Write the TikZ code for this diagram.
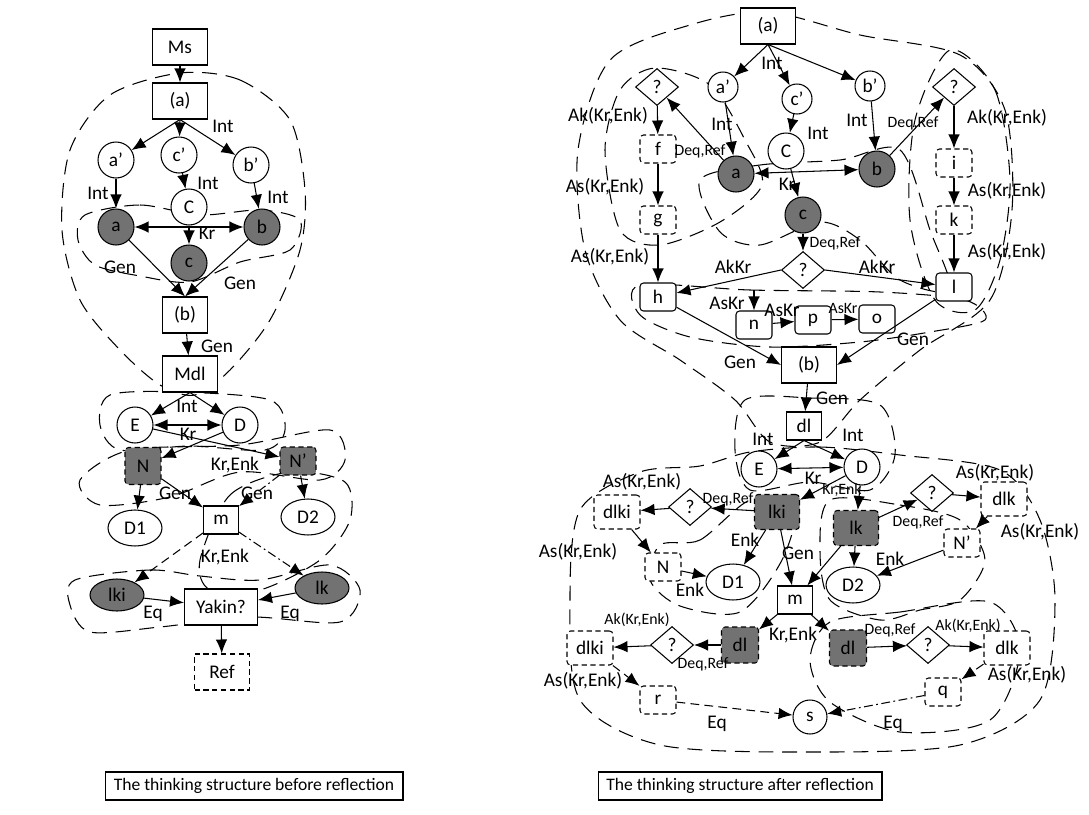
\documentclass[tikz,border=0pt]{standalone}
\usepackage{fontspec}
\setmainfont{Carlito}
\usetikzlibrary{arrows.meta,shapes.geometric}

\definecolor{markgray}{HTML}{727272}

\tikzset{
    every node/.style = {font=\fontsize{11}{12}\selectfont, inner sep=1pt},
    box/.style = {draw, fill=white, rectangle, minimum width=1.1cm, minimum height=0.72cm},
    sbox/.style = {box, minimum width=0.7cm, minimum height=0.56cm},
    rbox/.style = {draw, fill=white, rounded corners=2pt, minimum width=0.72cm, minimum height=0.56cm},
    dbox/.style = {rbox, densely dashed},
    wbox/.style = {dbox, minimum width=0.92cm, minimum height=0.68cm},
    gbox/.style = {dbox, fill=markgray, minimum width=0.9cm, minimum height=0.7cm},
    circ/.style = {draw, fill=white, circle, minimum size=0.72cm},
    scirc/.style = {circ, minimum size=0.6cm},
    gcirc/.style = {circ, fill=markgray},
    oval/.style = {draw, fill=white, ellipse, minimum width=1.08cm, minimum height=0.72cm},
    goval/.style = {oval, fill=markgray, minimum height=0.64cm},
    ask/.style = {draw, fill=white, diamond, minimum width=0.86cm, minimum height=0.74cm, inner sep=0pt},
    lbl/.style = {inner sep=0pt},
    slbl/.style = {inner sep=0pt, font=\fontsize{9}{10}\selectfont},
    caption/.style = {draw, font=\fontsize{10}{12}\selectfont, minimum height=0.56cm},
    zone/.style = {dash pattern=on 8.5pt off 5pt},
    dashline/.style = {dash pattern=on 5pt off 3pt},
    dotline/.style = {dash pattern=on 5pt off 2pt on 1pt off 2pt},
}

\begin{document}
\begin{tikzpicture}[> = {Latex[length=2.8mm, width=2.3mm]}, x=0.02cm, y=-0.02cm, line width=0.6pt]

        \useasboundingbox (0,0) rectangle (1089,815);

        % Dashed zones of the structure before reflection.
        \draw[zone] plot[smooth cycle] coordinates {(180,73) (240,80) (290,120) (305,190) (300,250)
            (270,320) (230,370) (195,395) (160,385) (120,350) (80,300) (62,230) (70,150) (110,95)};
        \draw[zone] plot[smooth cycle] coordinates {(85,215) (140,205) (200,215) (260,210) (300,220)
            (290,250) (240,262) (190,282) (140,276) (95,265) (78,240)};
        \draw[zone] plot[smooth cycle] coordinates {(110,395) (180,392) (270,400) (285,430) (265,450)
            (190,446) (120,450) (100,425)};
        \draw[zone] plot[smooth cycle] coordinates {(80,480) (130,450) (240,445) (330,430) (345,460)
            (320,480) (240,472) (170,497) (100,505)};
        \draw[zone] plot[smooth cycle] coordinates {(200,560) (230,495) (290,472) (345,482) (350,520)
            (320,560) (260,590) (210,590)};
        \draw[zone] plot[smooth cycle] coordinates {(75,580) (150,570) (200,576) (260,580) (330,565)
            (360,590) (340,622) (250,617) (160,627) (90,632) (70,605)};

        % Dashed zones of the structure after reflection.
        \draw[zone] plot[smooth cycle] coordinates {(768,12) (860,35) (960,55) (1005,110) (1012,210)
            (990,300) (920,350) (860,400) (820,442) (770,442) (735,400) (680,360) (620,320)
            (585,250) (578,150) (610,60) (690,25)};
        \draw[zone] plot[smooth cycle] coordinates {(655,68) (710,85) (745,140) (762,185) (720,222)
            (660,245) (620,230) (605,150) (620,90)};
        \draw[zone] plot[smooth cycle] coordinates {(950,50) (995,90) (1010,180) (1000,260) (975,310)
            (935,300) (910,220) (915,120)};
        \draw[zone] plot[smooth cycle] coordinates {(700,180) (760,165) (840,160) (900,150) (930,230)
            (950,290) (900,280) (860,240) (820,222) (760,245) (720,232)};
        \draw[zone] plot[smooth cycle] coordinates {(640,285) (750,290) (880,292) (965,300) (985,320)
            (930,332) (860,342) (770,347) (690,337) (640,315)};
        \draw[zone] plot[smooth cycle] coordinates {(750,452) (820,447) (900,455) (1000,470) (1040,520)
            (1055,600) (1040,700) (960,745) (810,752) (660,745) (580,700) (570,600) (580,510)
            (640,472) (700,466)};
        \draw[zone] plot[smooth cycle] coordinates {(745,400) (810,398) (880,405) (895,455) (870,490)
            (810,482) (750,490) (735,450)};
        \draw[zone] plot[smooth cycle] coordinates {(660,545) (700,540) (750,500) (795,505) (782,560)
            (740,612) (680,606) (650,580)};
        \draw[zone] plot[smooth cycle] coordinates {(830,500) (900,505) (960,520) (985,560) (960,600)
            (920,610) (880,620) (830,600) (820,550)};
        \draw[zone] plot[smooth cycle] coordinates {(830,622) (900,612) (990,602) (1020,650) (990,720)
            (900,732) (830,702) (810,660)};

        % Nodes before reflection.
        \node[box] (Ms) at (180,47) {Ms};
        \node[box] (La) at (180,101) {(a)};
        \node[circ] (Lap) at (116,160) {a’};
        \node[circ] (Lcp) at (179,155) {c’};
        \node[circ] (Lbp) at (251,165) {b’};
        \node[circ] (LC) at (189,207) {C};
        \node[gcirc] (La2) at (116,227) {a};
        \node[gcirc] (Lb2) at (262,227) {b};
        \node[gcirc] (Lc2) at (189,263) {c};
        \node[box, minimum width=0.9cm] (Lb) at (185,315) {(b)};
        \node[box] (Mdl) at (190,374) {Mdl};
        \node[circ] (LE) at (135,425) {E};
        \node[circ] (LD) at (240,425) {D};
        \node[gbox, minimum width=0.72cm, minimum height=0.74cm] (LN) at (143,466) {N};
        \node[gbox, minimum width=0.72cm, minimum height=0.56cm] (LNp) at (298,461) {N’};
        \node[oval] (LD1) at (135,528) {D1};
        \node[oval] (LD2) at (308,517) {D2};
        \node[sbox] (Lm) at (221,520) {m};
        \node[goval] (Llki) at (117,595) {lki};
        \node[goval] (Llk) at (322,588) {lk};
        \node[box, minimum width=1.46cm] (Yakin) at (221,607) {Yakin?};
        \node[box, densely dashed] (Ref) at (222,672) {Ref};

        % Connectors before reflection.
        \foreach \src/\dst in {Ms/La, Lap/La2, Lcp/LC, Lbp/Lb2, LC/Lc2, Lb/Mdl, LE/LNp, LD/LN,
            LN/LD1, LNp/LD2, LN/Lm, Llki/Yakin, Llk/Yakin, Yakin/Ref}
            \draw[->] (\src) -- (\dst);
        \foreach \dst in {Lap, Lcp, Lbp}
            \draw[->] (La.south) -- (\dst);
        \foreach \dst in {LE, LD}
            \draw[->] (Mdl.south) -- (\dst);
        \draw[<->] (La2) -- (Lb2);
        \draw[<->] (LE) -- (LD);
        \draw[->] (La2) -- (Lb.north);
        \draw[->] (Lb2) -- (Lb.north);
        \draw[->, dotline] (LNp) -- (Lm);
        \draw[->, dashline] (Lm) -- (Llki);
        \draw[->, dotline] (Lm) -- (Llk);

        % Labels before reflection.
        \foreach \name/\x/\y/\txt in {lA/223/126/Int, lB/98/193/Int, lC/208/183/Int, lD/278/197/Int,
            lE/207/233/Kr, lF/120/267/Gen, lG/240/283/Gen, lH/217/346/Gen, lI/187/406/Int,
            lJ/188/434/Kr, lK/235/465/{Kr,Enk}, lL/175/493/Gen, lM/257/493/Gen,
            lN/225/557/{Kr,Enk}, lO/153/614/Eq, lP/290/614/Eq}
            \node[lbl] (\name) at (\x,\y) {\txt};

        % Nodes after reflection.
        \node[box] (Ra) at (768,26) {(a)};
        \node[scirc] (Rap) at (723,87) {a’};
        \node[scirc] (Rcp) at (797,99) {c’};
        \node[scirc] (Rbp) at (870,86) {b’};
        \node[circ] (RC) at (786,151) {C};
        \node[gcirc] (Ra2) at (736,174) {a};
        \node[gcirc] (Rb2) at (877,169) {b};
        \node[gcirc] (Rc2) at (803,215) {c};
        \node[ask] (Rql) at (657,87) {?};
        \node[ask] (Rqr) at (954,87) {?};
        \node[dbox] (Rf) at (658,149) {f};
        \node[dbox] (Rg) at (658,220) {g};
        \node[rbox] (Rh) at (658,297) {h};
        \node[dbox] (Ri) at (954,163) {i};
        \node[dbox] (Rk) at (954,220) {k};
        \node[rbox] (Rl) at (954,287) {l};
        \node[ask] (Rqc) at (803,270) {?};
        \node[rbox] (Rn) at (754,325) {n};
        \node[rbox] (Rp) at (813,320) {p};
        \node[rbox] (Ro) at (877,319) {o};
        \node[box] (Rb) at (809,365) {(b)};
        \node[sbox] (Rdl) at (804,426) {dl};
        \node[circ] (RE) at (759,469) {E};
        \node[circ] (RD) at (862,467) {D};
        \node[gbox] (Rlki) at (777,512) {lki};
        \node[gbox] (Rlk) at (856,528) {lk};
        \node[ask] (Rqml) at (690,507) {?};
        \node[wbox] (Rdlki) at (617,512) {dlki};
        \node[ask] (Rqmr) at (932,493) {?};
        \node[wbox] (Rdlk) at (1004,499) {dlk};
        \node[dbox] (RNp) at (962,543) {N’};
        \node[dbox] (RN) at (663,567) {N};
        \node[oval] (RD1) at (733,582) {D1};
        \node[sbox] (Rm) at (795,600) {m};
        \node[oval] (RD2) at (853,585) {D2};
        \node[gbox, minimum width=0.74cm, minimum height=0.72cm] (Rdll) at (740,645) {dl};
        \node[ask] (Rqbl) at (672,645) {?};
        \node[wbox] (Rdlki2) at (590,648) {dlki};
        \node[dbox] (Rr) at (658,700) {r};
        \node[circ, minimum size=0.68cm] (Rs) at (810,717) {s};
        \node[gbox, minimum width=0.74cm, minimum height=0.72cm] (Rdlr) at (848,648) {dl};
        \node[ask] (Rqbr) at (928,645) {?};
        \node[wbox] (Rdlk2) at (1007,648) {dlk};
        \node[dbox] (Rq) at (943,692) {q};
        \coordinate (nin) at (754,290);

        % Connectors after reflection.
        \foreach \src/\dst in {Rap/Ra2, Rcp/RC, Rbp/Rb2, RC/Rc2, Ra2/Rql, Rb2/Rqr, Rql/Rf, Rf/Rg,
            Rg/Rh, Rqr/Ri, Ri/Rk, Rk/Rl, Rc2/Rqc, nin/Rn, Rn/Rp, Rp/Ro, Rb/Rdl, RD/Rlki, RD/Rlk,
            Rlki/Rqml, Rqml/Rdlki, Rlk/Rqmr, Rqmr/Rdlk, Rdlki/RN, Rdlk/RNp, RN/RD1, Rlki/RD1,
            Rlk/RD2, RNp/RD2, Rlki/Rm, Rlk/Rm, Rm/Rdll, Rm/Rdlr, Rdll/Rqbl, Rqbl/Rdlki2,
            Rdlr/Rqbr, Rqbr/Rdlk2}
            \draw[->] (\src) -- (\dst);
        \foreach \dst in {Rap, Rcp, Rbp}
            \draw[->] (Ra.south) -- (\dst);
        \foreach \dst in {RE, RD}
            \draw[->] (Rdl.south) -- (\dst);
        \draw[<->] (Ra2) -- (Rb2);
        \draw[<->] (RE) -- (RD);
        \draw[->] (Rqc.west) -- (Rh);
        \draw[->] (Rqc.east) -- (Rl);
        \draw[->] (Rh) -- (Rb.west);
        \draw[->] (Rl) -- (Rb.east);
        \draw[->, dashline] (Rdlki2) -- (Rr);
        \draw[->, dashline] (Rdlk2) -- (Rq);
        \draw[->, dashline] (Rr) -- (Rs);
        \draw[->, dotline] (Rq) -- (Rs);

        % Labels after reflection.
        \foreach \name/\x/\y/\txt in {rA/772/63/Int, rB/722/124/Int, rC/818/133/Int, rD/857/120/Int,
            rE/787/184/Kr, rF/608/116/{Ak(Kr,Enk)}, rG/605/187/{As(Kr,Enk)}, rH/610/257/{As(Kr,Enk)},
            rI/1007/118/{Ak(Kr,Enk)}, rJ/1007/191/{As(Kr,Enk)}, rK/1007/252/{As(Kr,Enk)},
            rL/733/267/AkKr, rM/877/267/AkKr, rN/727/303/AsKr, rO/782/310/AsKr, rP/740/362/Gen,
            rQ/913/339/Gen, rR/832/398/Gen, rS/763/439/Int, rT/853/435/Int, rU/813/478/Kr,
            rV/642/482/{As(Kr,Enk)}, rW/995/473/{As(Kr,Enk)}, rX/1040/532/{As(Kr,Enk)},
            rY/578/552/{As(Kr,Enk)}, rZ/690/590/Enk, sA/745/540/Enk, sB/798/553/Gen,
            sC/890/559/Enk, sD/793/635/{Kr,Enk}, sE/583/681/{As(Kr,Enk)},
            sF/1027/675/{As(Kr,Enk)}, sG/717/724/Eq, sH/893/724/Eq}
            \node[lbl] (\name) at (\x,\y) {\txt};
        \foreach \name/\x/\y/\txt in {tA/700/151/{Deq,Ref}, tB/913/123/{Deq,Ref},
            tC/835/243/{Deq,Ref}, tD/843/308/AsKr, tE/842/490/{Kr,Enk}, tF/728/499/{Deq,Ref},
            tG/918/522/{Deq,Ref}, tH/637/620/{Ak(Kr,Enk)}, tI/703/664/{Deq,Ref},
            tJ/890/630/{Deq,Ref}, tK/968/626/{Ak(Kr,Enk)}}
            \node[slbl] (\name) at (\x,\y) {\txt};

        % Captions.
        \node[caption, minimum width=5.96cm] (capL) at (254,786)
            {The thinking structure before reflection};
        \node[caption, minimum width=5.68cm] (capR) at (740,786)
            {The thinking structure after reflection};
    \end{tikzpicture}
\end{document}
